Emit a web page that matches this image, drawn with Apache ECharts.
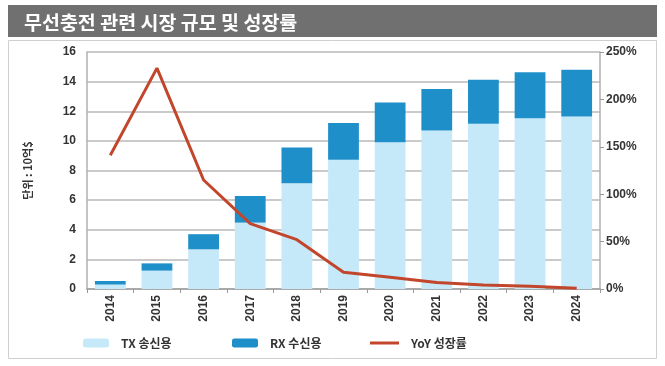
<!DOCTYPE html>
<html><head><meta charset="utf-8">
<script src="https://cdn.jsdelivr.net/npm/echarts@6/dist/echarts.min.js"></script>
<style>html,body{margin:0;padding:0;background:#fff}#c{width:665px;height:366px}</style>
</head><body><div id="c"></div>
<script>
var categories = ['2014','2015','2016','2017','2018','2019','2020','2021','2022','2023','2024'];
var txValues = [0.30, 1.24, 2.68, 4.48, 7.14, 8.72, 9.91, 10.70, 11.15, 11.53, 11.64];
var rxValues = [0.24, 0.49, 1.02, 1.80, 2.41, 2.48, 2.68, 2.81, 2.97, 3.11, 3.16];
var yoyValues = [141, 233, 115, 69, 52, 17.6, 12.5, 6.8, 4.3, 3.0, 0.7];
var leftTicks = {min: 0, max: 16, interval: 2};
var rightTicks = {min: 0, max: 250, interval: 50};

var chart = echarts.init(document.getElementById('c'));
var lab = {fontFamily: 'Liberation Sans, Arial, sans-serif', fontWeight: 'bold', color: '#333', fontSize: 12};
var legText = {color: '#333', fontSize: 12, fontWeight: 'bold', fontFamily: 'Noto Sans CJK KR'};
chart.setOption({
  animation: false,
  backgroundColor: '#fff',
  graphic: [
    {type: 'rect', shape: {x: 8, y: 5, width: 649, height: 32}, style: {fill: '#707070'}, z: -1},
    {type: 'rect', shape: {x: 8.5, y: 40.5, width: 648, height: 318}, style: {fill: 'none', stroke: '#cfcfcf', lineWidth: 1}, z: -1}
  ],
  title: {text: '무선충전 관련 시장 규모 및 성장률', left: 19, top: 8,
    textStyle: {color: '#fff', fontSize: 19.5, fontWeight: 'bold', fontFamily: 'Noto Sans CJK KR'}},
  legend: [
    {data: ['TX 송신용'], left: 78, top: 332, itemWidth: 26, itemHeight: 9,
      textStyle: Object.assign({padding: [0,0,0,7]}, legText)},
    {data: ['RX 수신용'], left: 227, top: 332, itemWidth: 26, itemHeight: 9,
      textStyle: Object.assign({padding: [0,0,0,7]}, legText)},
    {data: [{name: 'YoY 성장률', icon: 'rect'}], left: 365, top: 332, itemWidth: 29, itemHeight: 3,
      textStyle: Object.assign({padding: [0,0,0,7]}, legText)}
  ],
  grid: {left: 87, right: 65, top: 52, bottom: 77},
  xAxis: {type: 'category', data: categories,
    axisLine: {lineStyle: {color: '#a0a0a0', width: 1.5}},
    axisTick: {show: true, alignWithLabel: false, length: 4, lineStyle: {color: '#999'}},
    axisLabel: Object.assign({rotate: 90, margin: 6}, lab)},
  yAxis: [
    {type: 'value', min: leftTicks.min, max: leftTicks.max, interval: leftTicks.interval,
      name: '단위 : 10억$', nameLocation: 'middle', nameGap: 54, nameRotate: 90,
      nameTextStyle: {fontFamily: 'Noto Sans CJK KR', fontWeight: 'bold', fontSize: 11, color: '#333'},
      axisLine: {show: true, lineStyle: {color: '#b0b0b0', width: 1.5}},
      splitLine: {lineStyle: {color: '#b8b8b8', width: 1.5}},
      axisLabel: Object.assign({margin: 11}, lab)},
    {type: 'value', min: rightTicks.min, max: rightTicks.max, interval: rightTicks.interval,
      axisLine: {show: true, lineStyle: {color: '#b0b0b0', width: 1.5}},
      axisTick: {show: true, length: 4, lineStyle: {color: '#999'}},
      splitLine: {show: false},
      axisLabel: Object.assign({margin: 6, formatter: '{value}%'}, lab)}
  ],
  series: [
    {name: 'TX 송신용', type: 'bar', stack: 's', data: txValues, barWidth: '66%',
      itemStyle: {color: '#c6e9f9'}},
    {name: 'RX 수신용', type: 'bar', stack: 's', data: rxValues, barWidth: '66%',
      itemStyle: {color: '#1f8fca'}},
    {name: 'YoY 성장률', type: 'line', yAxisIndex: 1, data: yoyValues, symbol: 'none',
      lineStyle: {color: '#c2462b', width: 3}, itemStyle: {color: '#c2462b'}}
  ]
});
</script></body></html>
